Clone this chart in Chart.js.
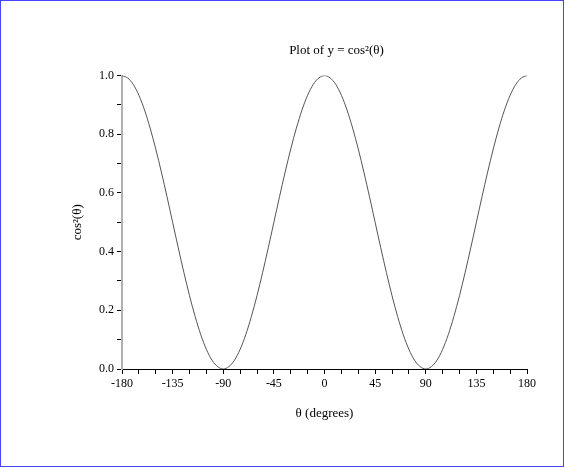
<!DOCTYPE html>
<html>
<head>
<meta charset="utf-8">
<script src="https://cdn.jsdelivr.net/npm/chart.js@4/dist/chart.umd.min.js"></script>
<style>
  html, body { margin: 0; padding: 0; background: #fff; }
  #wrap { width: 562px; height: 465px; border: 1px solid #4646ff; }
</style>
</head>
<body>
<div id="wrap"><canvas id="myChart" width="562" height="465"></canvas></div>
<script>
// angles in degrees, read every 5 degrees
const angles = [
  -180, -175, -170, -165, -160, -155, -150, -145, -140, -135, -130, -125, -120,
  -115, -110, -105, -100, -95, -90, -85, -80, -75, -70, -65, -60, -55, -50, -45,
  -40, -35, -30, -25, -20, -15, -10, -5, 0, 5, 10, 15, 20, 25, 30, 35, 40, 45,
  50, 55, 60, 65, 70, 75, 80, 85, 90, 95, 100, 105, 110, 115, 120, 125, 130,
  135, 140, 145, 150, 155, 160, 165, 170, 175, 180
];
// y = cos^2(theta)
const values = [
  1.000, 0.992, 0.970, 0.933, 0.883, 0.821, 0.750, 0.671, 0.587, 0.500, 0.413, 0.329, 0.250,
  0.179, 0.117, 0.067, 0.030, 0.008, 0.000, 0.008, 0.030, 0.067, 0.117, 0.179, 0.250, 0.329, 0.413, 0.500,
  0.587, 0.671, 0.750, 0.821, 0.883, 0.933, 0.970, 0.992, 1.000, 0.992, 0.970, 0.933, 0.883, 0.821, 0.750, 0.671, 0.587, 0.500,
  0.413, 0.329, 0.250, 0.179, 0.117, 0.067, 0.030, 0.008, 0.000, 0.008, 0.030, 0.067, 0.117, 0.179, 0.250, 0.329, 0.413,
  0.500, 0.587, 0.671, 0.750, 0.821, 0.883, 0.933, 0.970, 0.992, 1.000
];
const xTickLabels = [-180, -135, -90, -45, 0, 45, 90, 135, 180];
const yTickLabels = [0.0, 0.2, 0.4, 0.6, 0.8, 1.0];

const serif = 'Liberation Serif';

// the title sits a bit right of the plot centre in the original
const shiftTitle = {
  id: 'shiftTitle',
  afterLayout(chart) {
    const t = chart.titleBlock;
    if (t) {
      t.left = 145;
      t.right = chart.chartArea.right;
      t.width = t.right - t.left;
    }
  }
};

function createChart() {
  const ctx = document.getElementById('myChart').getContext('2d');
  const points = angles.map((a, i) => ({ x: a, y: values[i] }));

  new Chart(ctx, {
    type: 'line',
    data: {
      datasets: [{
        data: points,
        borderColor: '#555',
        borderWidth: 1,
        pointRadius: 0,
        fill: false,
        cubicInterpolationMode: 'monotone'
      }]
    },
    options: {
      responsive: false,
      animation: false,
      layout: { padding: { left: 0, right: 36, top: 0, bottom: 0 } },
      plugins: {
        legend: { display: false },
        tooltip: { enabled: false },
        title: {
          display: true,
          text: 'Plot of y = cos²(θ)',
          color: '#000',
          font: { family: serif, size: 13, weight: 'normal' },
          padding: { top: 42, bottom: 17 }
        }
      },
      scales: {
        x: {
          type: 'linear',
          min: -180,
          max: 180,
          afterFit: (s) => { s.height = 97; },
          ticks: {
            stepSize: 15,
            autoSkip: false,
            maxRotation: 0,
            padding: 3,
            color: '#000',
            font: { family: serif, size: 12 },
            callback: (v) => xTickLabels.includes(v) ? String(v) : ''
          },
          grid: { drawOnChartArea: false, drawTicks: true, tickLength: 5, tickColor: '#000' },
          border: { color: '#000', width: 1 },
          title: {
            display: true,
            text: 'θ (degrees)',
            color: '#000',
            font: { family: serif, size: 13 },
            padding: { top: 0, bottom: 45 }
          }
        },
        y: {
          min: 0,
          max: 1,
          afterFit: (s) => { s.width = 121; },
          ticks: {
            stepSize: 0.1,
            autoSkip: false,
            padding: 3,
            color: '#000',
            font: { family: serif, size: 12 },
            callback: (v) => {
              const r = Math.round(v * 10) / 10;
              return yTickLabels.some(t => Math.abs(t - r) < 1e-9) ? r.toFixed(1) : '';
            }
          },
          grid: { drawOnChartArea: false, drawTicks: true, tickLength: 5, tickColor: '#000' },
          border: { color: '#b0b0b0', width: 2 },
          title: {
            display: true,
            text: 'cos²(θ)',
            color: '#000',
            font: { family: serif, size: 13 },
            padding: { top: 69, bottom: 0 }
          }
        }
      }
    },
    plugins: [shiftTitle]
  });
}

createChart();
</script>
</body>
</html>
